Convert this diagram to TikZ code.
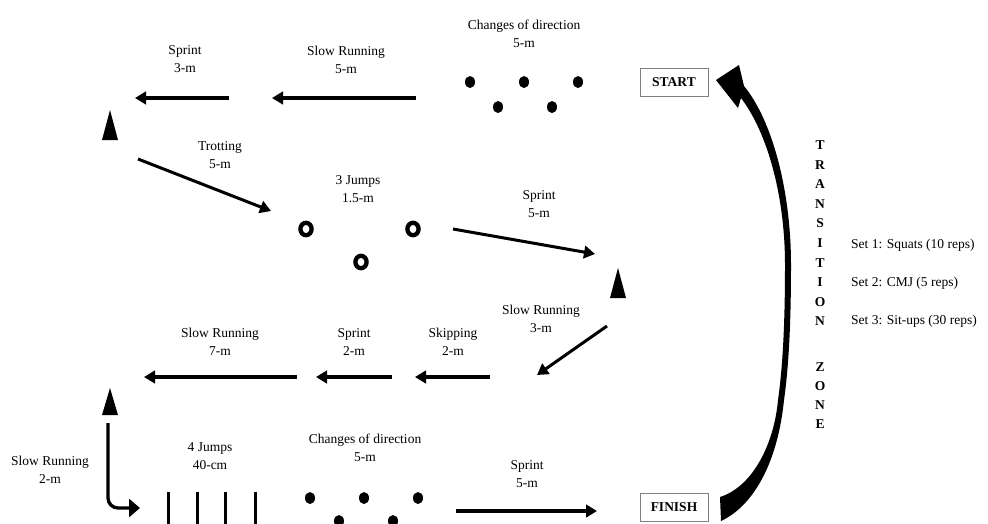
\documentclass[tikz,border=0pt]{standalone}
\usepackage{fontspec}
\setmainfont{Liberation Serif}
\usetikzlibrary{arrows.meta}
\tikzset{
  lbl/.style={align=center, inner sep=0pt, font=\fontsize{13.5}{18}\selectfont},
  runarrow/.style={line width=3.4pt, -{Triangle[length=11pt,width=12.5pt]}},
  conemark/.style={fill=black},
  dotmark/.style={fill=black},
  ringmark/.style={draw=black, line width=4.3pt},
  hurdle/.style={line width=3pt},
  boxlbl/.style={draw=gray, line width=0.9pt, minimum width=68pt, minimum height=28pt, inner sep=0pt, font=\fontsize{13.5}{16}\selectfont\bfseries},
  zoneletter/.style={inner sep=0pt, font=\fontsize{13.5}{16}\selectfont\bfseries},
  setlbl/.style={anchor=west, inner sep=0pt, font=\fontsize{13.5}{16}\selectfont},
}
\begin{document}
\begin{tikzpicture}[x=1pt,y=-1pt]
\useasboundingbox (0,0) rectangle (988,523);
\fill[white] (0,0) rectangle (988,523);
\clip (0,0) rectangle (988,523);

% ---------- top row ----------
\node[lbl] (lSprintA) at (185,59.5) {Sprint\\3-m};
\node[lbl] (lSlowA) at (346,59.5) {Slow Running\\5-m};
\node[lbl] (lCodA) at (524,34) {Changes of direction\\5-m};
\coordinate (aSA1) at (229,98); \coordinate (aSA2) at (135,98);
\draw[runarrow] (aSA1) -- (aSA2);
\coordinate (aSlA1) at (416,98); \coordinate (aSlA2) at (272,98);
\draw[runarrow] (aSlA1) -- (aSlA2);
\foreach \p in {(470,82),(524,82),(578,82),(498,107),(552,107)}
  \fill[dotmark] \p ellipse [x radius=5, y radius=6];
\node[boxlbl] (start) at (674,82) {START};

% ---------- second row ----------
\fill[conemark] (110,110) -- (118,140) -- (102,140) -- cycle;
\node[lbl] (lTrot) at (220,155) {Trotting\\5-m};
\coordinate (aT1) at (138,159); \coordinate (aT2) at (271,211);
\draw[runarrow, line width=3pt] (aT1) -- (aT2);
\node[lbl] (lJumps3) at (358,189) {3 Jumps\\1.5-m};
\foreach \p in {(306,229),(413,229),(361,262)}
  \draw[ringmark] \p ellipse [x radius=5.6, y radius=6.2];
\node[lbl] (lSprintB) at (539,204.5) {Sprint\\5-m};
\coordinate (aSB1) at (453,229); \coordinate (aSB2) at (595,254);
\draw[runarrow, line width=3pt] (aSB1) -- (aSB2);
\fill[conemark] (618,268) -- (626,298) -- (610,298) -- cycle;

% ---------- third row ----------
\node[lbl] (lSlowB) at (541,319) {Slow Running\\3-m};
\coordinate (aSlB1) at (607,326); \coordinate (aSlB2) at (537,375);
\draw[runarrow, line width=3pt] (aSlB1) -- (aSlB2);
\node[lbl] (lSkip) at (453,342) {Skipping\\2-m};
\coordinate (aSk1) at (490,377); \coordinate (aSk2) at (415,377);
\draw[runarrow] (aSk1) -- (aSk2);
\node[lbl] (lSprintC) at (354,342) {Sprint\\2-m};
\coordinate (aSC1) at (392,377); \coordinate (aSC2) at (316,377);
\draw[runarrow] (aSC1) -- (aSC2);
\node[lbl] (lSlowC) at (220,342) {Slow Running\\7-m};
\coordinate (aSlC1) at (297,377); \coordinate (aSlC2) at (144,377);
\draw[runarrow] (aSlC1) -- (aSlC2);

% ---------- bottom row ----------
\fill[conemark] (110,388) -- (118,415) -- (102,415) -- cycle;
\node[lbl] (lSlowD) at (50,470) {Slow Running\\2-m};
\coordinate (aB1) at (108,423); \coordinate (aBc) at (108,508); \coordinate (aB2) at (140,508);
\draw[line width=3.3pt, rounded corners=10pt, -{Triangle[length=11pt,width=18pt]}] (aB1) -- (aBc) -- (aB2);
\node[lbl] (lJumps4) at (210,456.5) {4 Jumps\\40-cm};
\foreach \x in {168,197,225,255}
  \draw[hurdle] (\x,492) -- (\x,526);
\node[lbl] (lCodB) at (365,448) {Changes of direction\\5-m};
\foreach \p in {(310,498),(364,498),(418,498),(339,521),(393,521)}
  \fill[dotmark] \p ellipse [x radius=5, y radius=6];
\node[lbl] (lSprintD) at (527,474) {Sprint\\5-m};
\coordinate (aSD1) at (456,511); \coordinate (aSD2) at (597,511);
\draw[runarrow] (aSD1) -- (aSD2);
\node[boxlbl] (finish) at (674,507.5) {FINISH};

% ---------- transition arrow ----------
\fill[black] (716,80) -- (739,65) -- (744,86)
  .. controls (772,120) and (791,190) .. (791,265)
  .. controls (791,320) and (789,365) .. (784,400)
  .. controls (778,460) and (755,505) .. (721,521)
  -- (720,497)
  .. controls (752,487) and (774,445) .. (778,400)
  .. controls (783,365) and (785,320) .. (785,265)
  .. controls (785,195) and (767,132) .. (741,98)
  -- (738,108) -- cycle;

% ---------- TRANSITION ZONE ----------
\node[zoneletter] (t1) at (820,145) {T};
\node[zoneletter] (t2) at (820,164.6) {R};
\node[zoneletter] (t3) at (820,184.2) {A};
\node[zoneletter] (t4) at (820,203.8) {N};
\node[zoneletter] (t5) at (820,223.4) {S};
\node[zoneletter] (t6) at (820,243) {I};
\node[zoneletter] (t7) at (820,262.6) {T};
\node[zoneletter] (t8) at (820,282.2) {I};
\node[zoneletter] (t9) at (820,301.8) {O};
\node[zoneletter] (t10) at (820,321.4) {N};
\node[zoneletter] (z1) at (820,367) {Z};
\node[zoneletter] (z2) at (820,386) {O};
\node[zoneletter] (z3) at (820,405) {N};
\node[zoneletter] (z4) at (820,424) {E};

\node[setlbl] (set1) at (851,245) {Set 1: Squats (10 reps)};
\node[setlbl] (set2) at (851,283) {Set 2: CMJ (5 reps)};
\node[setlbl] (set3) at (851,321.5) {Set 3: Sit-ups (30 reps)};
\end{tikzpicture}
\end{document}
